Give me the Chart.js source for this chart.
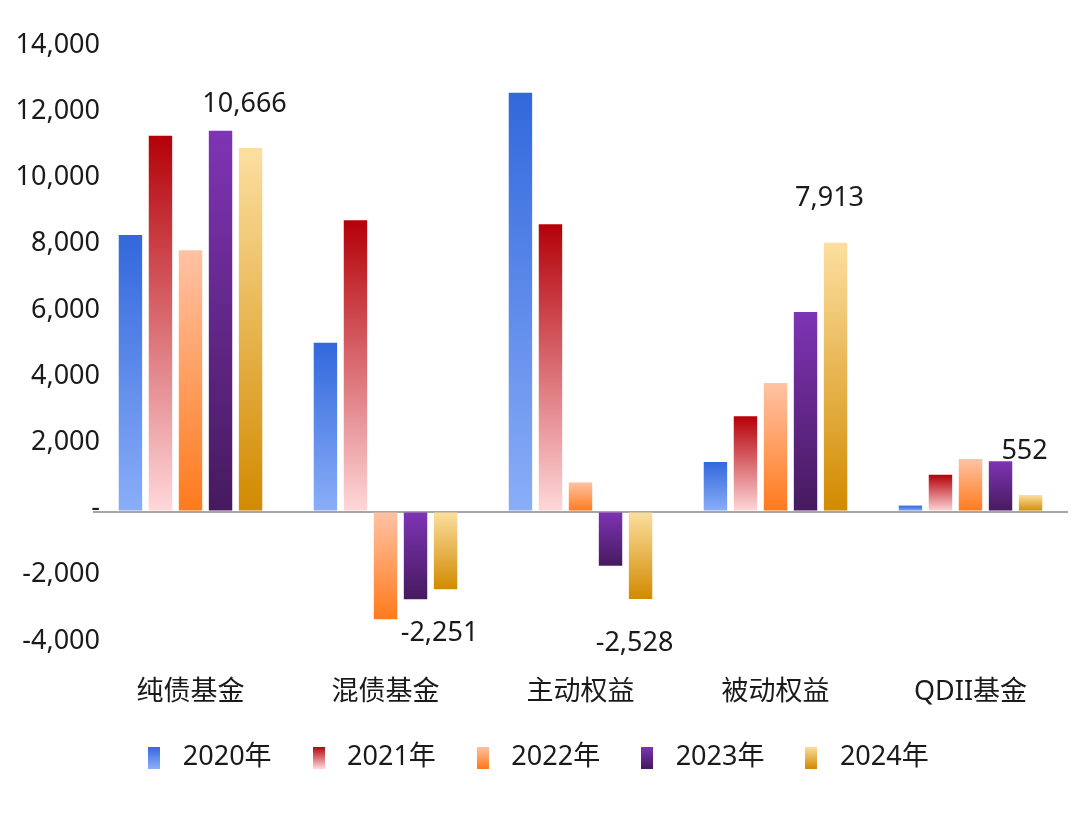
<!DOCTYPE html>
<html>
<head>
<meta charset="utf-8">
<script src="https://cdn.jsdelivr.net/npm/chart.js@4"></script>
<style>html,body{margin:0;background:#fff}</style>
</head>
<body>
<canvas id="c" width="1080" height="817"></canvas>
<script>
const categories = ["纯债基金", "混债基金", "主动权益", "被动权益", "QDII基金"];
const years = ["2020年", "2021年", "2022年", "2023年", "2024年"];
const v2020 = [8350, 5100, 12650, 1500, 180];
const v2021 = [11350, 8800, 8680, 2880, 1110];
const v2022 = [7890, -3250, 880, 3880, 1590];
const v2023 = [11500, -2650, -1640, 6030, 1520];
const v2024 = [10980, -2350, -2640, 8120, 500];
const labels2024 = ["10,666", "-2,251", "-2,528", "7,913", "552"];
const yMin = -4000, yMax = 14000, yStep = 2000;

const FONT = "'Noto Sans', 'Noto Sans CJK SC', sans-serif";
const TEXT = "#1a1a1a";

// top / bottom colour of each series' gradient
const palette = [
  ["#3268dc", "#8aaef8"],
  ["#b40008", "#ffd8da"],
  ["#ffc2a4", "#ff7a1c"],
  ["#7e34b4", "#461a5e"],
  ["#fcdfa0", "#d28a00"],
];

function barFill(i) {
  return (ctx) => {
    const chart = ctx.chart;
    if (ctx.type !== "data" || !chart.chartArea) return palette[i][0];
    const y = chart.scales.y;
    const a = y.getPixelForValue(ctx.raw);
    const b = y.getPixelForValue(0);
    const top = Math.min(a, b), bot = Math.max(a, b);
    if (bot - top < 1) return palette[i][0];
    const g = chart.ctx.createLinearGradient(0, top, 0, bot);
    g.addColorStop(0, palette[i][0]);
    g.addColorStop(1, palette[i][1]);
    return g;
  };
}

function swatch(i) {
  const c = document.createElement("canvas");
  c.width = 12;
  c.height = 22;
  const g = c.getContext("2d");
  const gr = g.createLinearGradient(0, 0, 0, 22);
  gr.addColorStop(0, palette[i][0]);
  gr.addColorStop(1, palette[i][1]);
  g.fillStyle = gr;
  g.fillRect(0, 0, 12, 22);
  return c;
}
const swatches = palette.map((_, i) => swatch(i));

const fmt = (v) => (v === 0 ? "-" : v.toLocaleString("en-US"));

// y tick labels drawn by hand: the axis box would clip them otherwise
const yLabels = {
  id: "yLabels",
  afterDraw(chart) {
    const y = chart.scales.y;
    const ctx = chart.ctx;
    ctx.save();
    ctx.font = `27px ${FONT}`;
    ctx.fillStyle = TEXT;
    ctx.textAlign = "right";
    ctx.textBaseline = "middle";
    y.ticks.forEach((t) => {
      ctx.fillText(fmt(t.value), 100, y.getPixelForValue(t.value) - 3);
    });
    ctx.restore();
  },
};

const valueLabels = {
  id: "valueLabels",
  afterDatasetsDraw(chart) {
    const meta = chart.getDatasetMeta(4);
    const ctx = chart.ctx;
    ctx.save();
    ctx.font = `27px ${FONT}`;
    ctx.fillStyle = TEXT;
    ctx.textAlign = "center";
    ctx.textBaseline = "middle";
    meta.data.forEach((bar, i) => {
      const neg = v2024[i] < 0;
      ctx.fillText(labels2024[i], bar.x - 6, bar.y + (neg ? 44 : -44));
    });
    ctx.restore();
  },
};

const series = [v2020, v2021, v2022, v2023, v2024];

new Chart(document.getElementById("c"), {
  type: "bar",
  data: {
    labels: categories,
    datasets: series.map((d, i) => ({
      label: years[i],
      data: d,
      backgroundColor: barFill(i),
      borderWidth: 0,
      categoryPercentage: 0.77,
      barPercentage: 0.78,
    })),
  },
  options: {
    responsive: false,
    animation: false,
    layout: { padding: { top: 48, right: 12, bottom: 36, left: 0 } },
    plugins: {
      tooltip: { enabled: false },
      legend: {
        position: "bottom",
        labels: {
          usePointStyle: true,
          pointStyleWidth: 30,
          boxHeight: 22,
          padding: 32,
          color: TEXT,
          font: { family: FONT, size: 27 },
          generateLabels: (chart) =>
            chart.data.datasets.map((ds, i) => ({
              text: ds.label,
              pointStyle: swatches[i],
              fillStyle: palette[i][0],
              strokeStyle: "rgba(0,0,0,0)",
              lineWidth: 0,
              hidden: false,
              datasetIndex: i,
              fontColor: TEXT,
            })),
        },
      },
    },
    scales: {
      x: {
        grid: { display: false },
        border: { display: false },
        ticks: {
          color: TEXT,
          padding: 24,
          font: { family: FONT, size: 27 },
        },
        afterFit: (s) => { s.height = 68; },
      },
      y: {
        min: yMin,
        max: yMax,
        border: { display: false },
        grid: {
          drawTicks: false,
          lineWidth: 2,
          color: (ctx) => (ctx.tick && ctx.tick.value === 0 ? "#a6a6a6" : "rgba(0,0,0,0)"),
        },
        ticks: {
          stepSize: yStep,
          display: false,
        },
        afterFit: (s) => { s.width = 93; },
      },
    },
  },
  plugins: [valueLabels, yLabels],
});
</script>
</body>
</html>
